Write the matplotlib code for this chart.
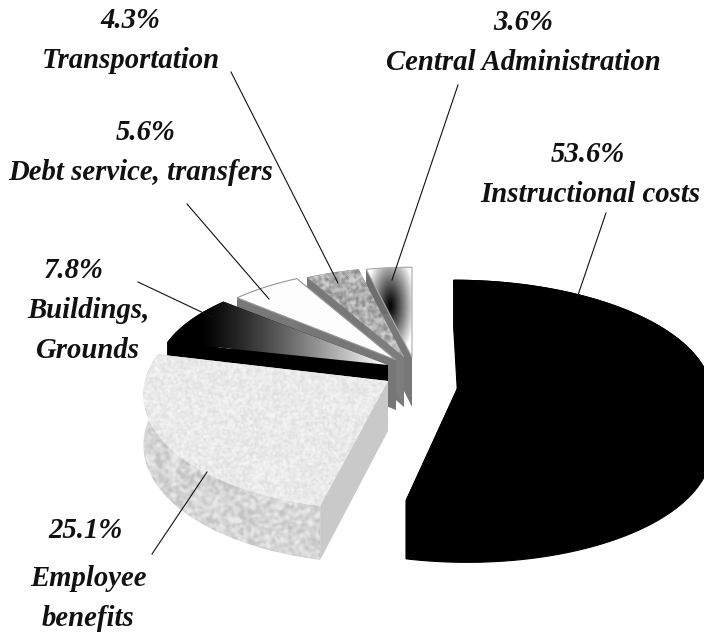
import numpy as np
import matplotlib
matplotlib.use('Agg')
import matplotlib.pyplot as plt
from matplotlib.patches import Polygon

# clockwise from 12 o'clock
categories = ['Instructional costs', 'Employee benefits', 'Buildings, Grounds',
              'Debt service, transfers', 'Transportation', 'Central Administration']
shares = [53.6, 25.1, 7.8, 5.6, 4.3, 3.6]

W, H = 704, 633
PERSP = 0.08

# slice layout: apex x, apex y, rx, ry, shear, thickness
layout = {
    'Instructional costs': (460, 383, 250, 111, 0.06, 54),
    'Employee benefits': (388, 381, 243, 118, -0.07, 50),
    'Buildings, Grounds': (388, 365, 231, 101, 0.0, 46),
    'Debt service, transfers': (396, 360, 223, 99, 0.0, 50),
    'Transportation': (404, 357, 218, 97, 0.0, 50),
    'Central Administration': (412, 357, 220, 97, 0.0, 50),
}

# text blocks: (line, x centre, y centre)
label_lines = {
    'Instructional costs': [('53.6%', 588, 155), ('Instructional costs', 590, 194)],
    'Employee benefits': [('25.1%', 86, 531), ('Employee', 88, 578), ('benefits', 88, 618)],
    'Buildings, Grounds': [('7.8%', 74, 270), ('Buildings,', 88, 310), ('Grounds', 87, 350)],
    'Debt service, transfers': [('5.6%', 146, 132), ('Debt service, transfers', 141, 173)],
    'Transportation': [('4.3%', 130, 20), ('Transportation', 131, 60)],
    'Central Administration': [('3.6%', 523, 22), ('Central Administration', 523, 62)],
}

leaders = {
    'Instructional costs': ((606, 213), (577, 298)),
    'Employee benefits': ((152, 554), (207, 472)),
    'Buildings, Grounds': ((138, 282), (212, 317)),
    'Debt service, transfers': ((187, 204), (269, 299)),
    'Transportation': ((231, 72), (338, 283)),
    'Central Administration': ((458, 85), (392, 280)),
}

yy, xx = np.mgrid[0:H, 0:W].astype(float)


def mottle(passes, lo, hi):
    """Soft paper-like grain made from a sine hash, scaled to lo..hi grey."""
    n = np.sin(xx * 12.9898 + yy * 78.233) * 43758.5453
    n = n - np.floor(n)
    for _ in range(passes):
        n = (n + np.roll(n, 1, 0) + np.roll(n, -1, 0) + np.roll(n, 1, 1) + np.roll(n, -1, 1)) / 5
    a, b = np.percentile(n, [2, 98])
    return lo + (hi - lo) * np.clip((n - a) / (b - a), 0, 1)


def flat(v):
    return np.full((H, W), float(v))


def project(name, t, drop=0.0):
    cx, cy, rx, ry, shear, th = layout[name]
    u, v = np.cos(t), np.sin(t)
    w = 1 + PERSP * v
    dy = -ry * v / w
    return np.column_stack([cx + rx * u / w + shear * dy, cy + dy + drop * th / w])


def paint(ax, xy, img, z, edge=None):
    poly = Polygon(xy, closed=True, transform=ax.transData)
    im = ax.imshow(img, cmap='gray', vmin=0, vmax=255, extent=(0, W, H, 0),
                   aspect='auto', zorder=z, interpolation='bilinear')
    im.set_clip_path(poly)
    if edge is not None:
        ax.add_patch(Polygon(xy, closed=True, fill=False, edgecolor=edge, linewidth=0.8, zorder=z + 0.1))


def draw_slice(ax, name, t0, t1, z, top, rim, right, left, edge=None, seam=None):
    cx, cy, rx, ry, shear, th = layout[name]
    t = np.linspace(t0, t1, 120)
    arc = project(name, t)
    arc_low = project(name, t, 1.0)
    apex = np.array([[cx, cy]], float)
    apex_low = np.array([[cx, cy + th]], float)
    # cut faces and rim first, the top surface goes over them
    paint(ax, np.vstack([apex, arc[:1], arc_low[:1], apex_low]), right, z, edge=seam)
    paint(ax, np.vstack([arc, arc_low[::-1]]), rim, z + 0.2, edge=seam)
    paint(ax, np.vstack([apex, arc[-1:], arc_low[-1:], apex_low]), left, z + 0.4, edge=seam)
    paint(ax, np.vstack([apex, arc]), top, z + 0.6, edge=edge or seam)


buildings_top = 255 * np.clip((xx - 200) / 185, 0, 1) ** 1.2
central_top = 255 * np.clip(np.hypot((xx - 390) / 25, (yy - 305) / 55), 0, 1) ** 1.1

styles = {
    'Instructional costs': dict(top=flat(0), rim=flat(0), right=flat(0), left=flat(0), seam='black'),
    'Employee benefits': dict(top=mottle(2, 224, 243), rim=mottle(5, 195, 232),
                              right=flat(201), left=flat(201)),
    'Buildings, Grounds': dict(top=buildings_top, rim=flat(0), right=flat(0), left=flat(0)),
    'Debt service, transfers': dict(top=flat(253), rim=flat(120), right=flat(120), left=flat(118),
                                    edge='#999999'),
    'Transportation': dict(top=mottle(3, 140, 205), rim=flat(120), right=flat(120), left=flat(125)),
    'Central Administration': dict(top=central_top, rim=flat(110), right=flat(120), left=flat(95),
                                   edge='#aaaaaa'),
}

# back to front
draw_order = ['Central Administration', 'Transportation', 'Debt service, transfers',
              'Buildings, Grounds', 'Employee benefits', 'Instructional costs']

fig = plt.figure(figsize=(W / 100, H / 100), dpi=100)
ax = fig.add_axes([0, 0, 1, 1])

sweeps = 2 * np.pi * np.array(shares) / sum(shares)
ends = np.pi / 2 - np.cumsum(sweeps)
starts = ends + sweeps
angle = {c: (a, b) for c, a, b in zip(categories, starts, ends)}

for i, name in enumerate(draw_order):
    t0, t1 = angle[name]
    draw_slice(ax, name, t0, t1, 2 + i, **styles[name])

for name in categories:
    (x0, y0), (x1, y1) = leaders[name]
    ax.plot([x0, x1], [y0, y1], color='#111111', lw=0.8, zorder=20)
    for text, x, y in label_lines[name]:
        ax.text(x, y, text, ha='center', va='center', fontsize=20.7, style='italic',
                weight='bold', family=['Liberation Serif', 'DejaVu Serif'], color='#111111', zorder=21)

ax.set_xlim(0, W)
ax.set_ylim(H, 0)
ax.axis('off')
fig.savefig('out.png', dpi=100, facecolor='white')
plt.close(fig)
